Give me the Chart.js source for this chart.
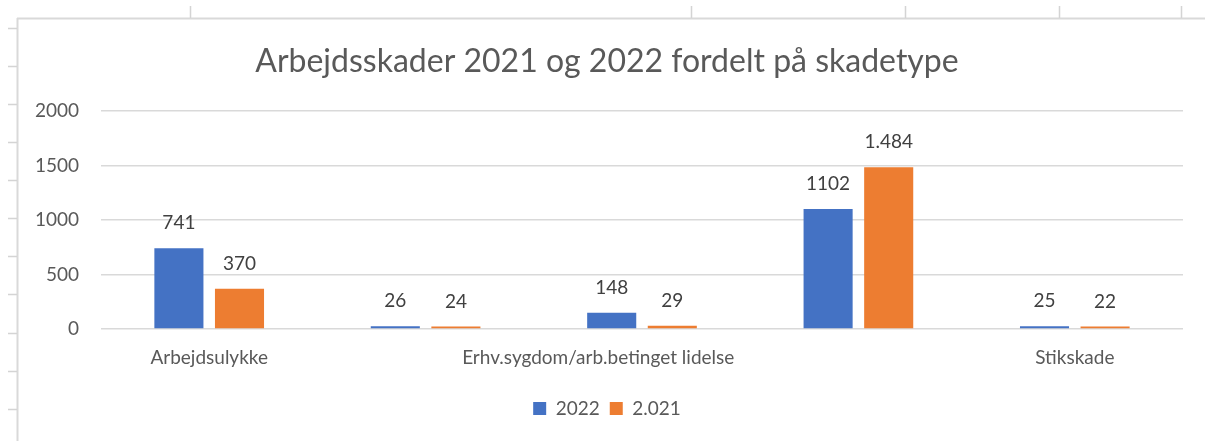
<!DOCTYPE html>
<html>
<head>
<meta charset="utf-8">
<script src="https://cdn.jsdelivr.net/npm/chart.js@4.4.1/dist/chart.umd.min.js"></script>
<style>
  html, body { margin: 0; padding: 0; background: #ffffff; }
  #wrap { position: relative; width: 1205px; height: 441px; }
</style>
</head>
<body>
<div id="wrap"><canvas id="c" width="1205" height="441"></canvas></div>
<script>
const categories = [
  "Arbejdsulykke",
  "",
  "Erhv.sygdom/arb.betinget lidelse                  ",
  "",
  "Stikskade"
];
const seriesNames = ["2022", "2.021"];
const values2022 = [741, 26, 148, 1102, 25];
const values2021 = [370, 24, 29, 1484, 22];
const yTicks = [0, 500, 1000, 1500, 2000];

const FONT = "Lato, 'Open Sans', sans-serif";
const GRID = "#d9d9d9";
const TEXT = "#595959";

function fmtThousands(v) {
  return String(v).replace(/\B(?=(\d{3})+(?!\d))/g, ".");
}

const framePlugin = {
  id: "frame",
  beforeDraw(chart) {
    const ctx = chart.ctx;
    ctx.save();
    ctx.fillStyle = "#ffffff";
    ctx.fillRect(0, 0, chart.width, chart.height);
    ctx.strokeStyle = "#d9d9d9";
    ctx.lineWidth = 2;
    ctx.beginPath();
    ctx.moveTo(17, 18.5); ctx.lineTo(chart.width, 18.5);
    ctx.moveTo(17.5, 18); ctx.lineTo(17.5, chart.height);
    ctx.stroke();
    ctx.lineWidth = 1.5;
    ctx.strokeStyle = "#d4d4d4";
    ctx.beginPath();
    [190, 691, 905, 1059, 1181].forEach(x => { ctx.moveTo(x + 0.5, 6); ctx.lineTo(x + 0.5, 18); });
    [28, 66, 104, 142, 180, 218, 256, 294, 333, 371, 409].forEach(y => { ctx.moveTo(8, y + 0.5); ctx.lineTo(17, y + 0.5); });
    ctx.stroke();
    ctx.restore();
  }
};

const valueLabels = {
  id: "valueLabels",
  afterDatasetsDraw(chart) {
    const ctx = chart.ctx;
    ctx.save();
    ctx.font = "19px " + FONT;
    ctx.fillStyle = "#404040";
    ctx.textAlign = "center";
    ctx.textBaseline = "middle";
    chart.data.datasets.forEach((ds, di) => {
      const meta = chart.getDatasetMeta(di);
      meta.data.forEach((bar, i) => {
        const v = ds.data[i];
        const txt = di === 1 ? fmtThousands(v) : String(v);
        ctx.fillText(txt, bar.x, bar.y - 25);
      });
    });
    ctx.restore();
  }
};

new Chart(document.getElementById("c"), {
  type: "bar",
  data: {
    labels: categories,
    datasets: [
      { label: seriesNames[0], data: values2022, backgroundColor: "#4472c4", borderWidth: 0,
        categoryPercentage: 0.56, barPercentage: 0.81 },
      { label: seriesNames[1], data: values2021, backgroundColor: "#ed7d31", borderWidth: 0,
        categoryPercentage: 0.56, barPercentage: 0.81 }
    ]
  },
  options: {
    responsive: false,
    animation: false,
    layout: { padding: { left: 31, right: 22, top: 0, bottom: 13 } },
    scales: {
      x: {
        grid: { display: false, drawTicks: false },
        border: { display: false },
        ticks: { autoSkip: false, maxRotation: 0, minRotation: 0, padding: 17,
                 font: { family: FONT, size: 19 }, color: TEXT },
        afterFit(s) { s.height = 60; }
      },
      y: {
        min: 0, max: 2000,
        afterBuildTicks(s) { s.ticks = yTicks.map(v => ({ value: v })); },
        grid: { color: GRID, lineWidth: 1.5, drawTicks: false },
        border: { display: false },
        ticks: { padding: 22, font: { family: FONT, size: 19 }, color: TEXT,
                 callback: (v) => String(v) },
        afterFit(s) { s.width = 70; }
      }
    },
    plugins: {
      title: {
        display: true,
        text: "Arbejdsskader 2021 og 2022 fordelt på skadetype",
        color: TEXT,
        font: { family: FONT, size: 32, weight: "normal", lineHeight: 1.2 },
        padding: { top: 42, bottom: 30.6 }
      },
      legend: {
        position: "bottom",
        labels: { boxWidth: 13, boxHeight: 13, padding: 10,
                  font: { family: FONT, size: 19 }, color: TEXT }
      },
      tooltip: { enabled: false }
    }
  },
  plugins: [framePlugin, valueLabels]
});
</script>
</body>
</html>
